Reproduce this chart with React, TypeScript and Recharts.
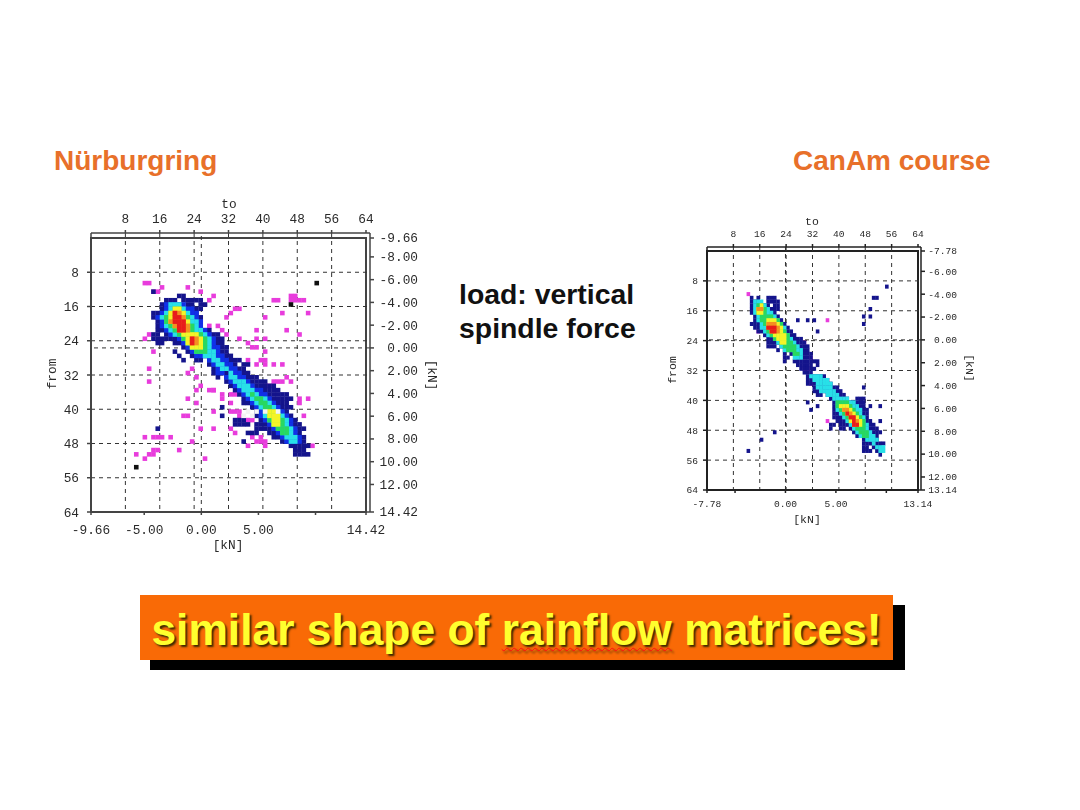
import React from "react";
import { ScatterChart, Scatter, XAxis, YAxis, ReferenceLine, ReferenceArea } from "recharts";

// Cells: [from-bin, to-bin start, to-bin end]
type Run = [number, number, number];

const leftMagenta: Run[] = [[10,12,13],[11,16,16],[11,22,22],[12,14,15],[12,25,25],[13,28,28],[14,27,27],[14,42,43],[13,46,47],[14,46,49],[17,44,44],[17,50,50],[18,40,40],[21,45,45],[22,48,48],[16,33,34],[17,32,32],[18,31,31],[20,27,27],[20,29,29],[21,30,30],[22,31,31],[23,34,34],[21,38,38],[23,38,38],[23,40,40],[24,36,36],[25,37,38],[26,40,40],[26,14,14],[23,12,12],[22,13,13],[30,13,13],[33,13,13],[31,22,22],[30,23,23],[32,24,24],[35,24,24],[34,25,25],[35,28,28],[37,22,22],[38,24,24],[40,28,28],[41,21,22],[44,25,25],[44,28,28],[46,12,12],[46,14,16],[46,18,18],[47,23,23],[49,20,20],[49,14,15],[50,10,10],[51,12,12],[50,13,14],[51,26,26],[28,36,36],[29,38,38],[29,40,40],[29,42,42],[29,44,44],[32,45,45],[33,46,46],[34,40,41],[37,48,48],[37,50,50],[38,48,48],[41,49,49],[48,51,51],[48,36,36],[48,40,40],[44,32,32],[45,33,33],[46,37,37],[46,39,39],[36,30,30],[38,32,32],[37,30,30],[40,32,34],[41,34,34],[30,30,31],[31,31,32],[28,39,40],[33,42,44],[42,36,37],[47,38,40],[35,27,28],[36,32,33]];
const leftNavy: Run[] = [[12,14,14],[13,20,21],[14,17,19],[14,21,25],[15,16,20],[15,22,23],[15,25,26],[16,16,25],[17,14,24],[18,14,25],[19,15,25],[20,15,25],[21,15,27],[22,14,15],[22,17,29],[23,14,30],[24,15,16],[24,19,30],[25,21,31],[26,19,19],[26,22,31],[27,20,20],[27,23,26],[27,28,32],[28,21,21],[28,24,25],[28,27,34],[29,27,33],[29,35,36],[30,28,35],[31,28,36],[32,29,29],[32,31,38],[33,31,40],[34,32,34],[34,36,42],[35,33,43],[36,34,45],[37,35,46],[38,35,45],[39,30,30],[39,37,46],[40,38,45],[41,30,30],[41,38,46],[42,33,35],[42,39,47],[43,33,36],[43,38,48],[44,15,15],[44,38,49],[45,36,38],[45,41,48],[46,42,49],[47,35,35],[47,44,49],[48,46,50],[49,47,49],[50,47,50]];
const leftBlue: Run[] = [[15,17,21],[16,17,23],[17,16,24],[18,15,24],[19,16,25],[20,16,25],[21,17,26],[22,18,27],[23,20,28],[24,21,28],[25,22,29],[26,23,29],[27,24,26],[27,28,30],[28,27,31],[29,28,32],[30,29,33],[31,29,30],[31,32,34],[32,31,35],[33,32,36],[34,33,37],[35,34,39],[36,35,40],[37,36,41],[38,37,42],[39,38,43],[40,39,44],[41,39,45],[42,40,46],[43,41,46],[44,42,47],[45,43,47],[46,44,48],[47,45,48]];
const leftCyan: Run[] = [[15,18,20],[16,18,21],[17,17,22],[18,16,23],[19,17,24],[20,17,24],[21,18,25],[22,19,26],[23,21,27],[24,22,27],[25,23,27],[26,24,28],[27,26,28],[28,28,29],[29,29,30],[30,30,31],[31,32,32],[32,32,33],[33,33,35],[34,34,36],[35,35,37],[36,36,38],[37,37,40],[38,38,41],[39,39,42],[40,40,43],[41,40,44],[42,41,45],[43,42,45],[44,43,46],[45,44,46],[46,45,47],[47,46,47]];
const leftGreen: Run[] = [[16,19,20],[17,18,21],[18,17,22],[19,17,22],[20,18,23],[21,19,23],[22,20,25],[23,21,26],[24,22,26],[25,23,26],[26,24,26],[36,37,37],[37,38,39],[38,39,40],[39,40,41],[40,40,42],[41,41,43],[42,41,44],[43,42,44],[44,43,45],[45,44,45]];
const leftYellow: Run[] = [[16,19,20],[17,18,21],[18,18,21],[19,18,22],[20,19,22],[21,20,22],[22,21,24],[23,22,25],[24,22,25],[25,23,25],[40,41,42],[41,41,43],[42,42,43],[43,42,43]];
const leftOrange: Run[] = [[17,19,20],[18,19,21],[19,18,21],[20,19,22],[21,20,22],[23,23,24],[24,23,24]];
const leftRed: Run[] = [[17,19,19],[18,19,20],[19,19,21],[20,20,21],[21,20,21],[23,23,23],[24,23,23]];
const leftSpecks: Run[] = [[10,52,52],[15,46,46],[53,10,10]];
const leftWhite: Run[] = [[40,36,36],[40,38,38],[40,40,40],[40,43,43],[41,35,35],[41,37,37]];

const rightMagenta: Run[] = [[11,12,12],[21,15,15],[24,29,29],[28,31,31],[31,29,30],[35,31,31],[45,36,36],[18,36,36]];
const rightNavy: Run[] = [[9,54,54],[12,50,51],[15,49,49],[17,49,49],[17,47,47],[19,47,47],[18,27,27],[18,30,30],[18,32,32],[21,33,33],[36,47,47],[41,49,49],[41,52,52],[40,30,30],[42,31,31],[41,33,33],[48,20,20],[50,16,16],[53,12,12],[45,52,52],[47,37,37],[12,13,13],[12,15,15],[12,18,20],[13,13,15],[13,18,21],[14,13,18],[14,20,21],[15,13,21],[16,13,20],[17,14,21],[18,14,22],[19,13,23],[20,14,24],[21,15,25],[22,17,26],[23,18,28],[24,18,29],[25,18,20],[25,22,30],[26,21,21],[26,23,30],[27,23,23],[27,25,31],[28,23,24],[28,27,31],[29,23,23],[29,26,33],[30,27,31],[30,33,33],[31,28,32],[32,29,31],[33,30,35],[34,30,36],[35,30,37],[36,32,39],[37,32,33],[37,35,40],[38,33,34],[38,36,41],[39,37,42],[39,45,47],[40,38,47],[41,38,47],[42,38,48],[43,38,48],[44,38,48],[45,39,49],[46,37,38],[46,40,50],[47,40,41],[47,43,51],[48,44,52],[49,45,51],[50,47,51],[51,47,49],[51,51,53],[52,47,48],[52,50,52],[53,47,49],[53,51,52],[54,52,52]];
const rightCyan: Run[] = [[13,14,16],[14,14,17],[15,14,18],[16,14,19],[17,15,20],[18,15,21],[19,16,22],[20,16,23],[21,17,23],[22,18,24],[23,20,25],[24,21,26],[25,22,27],[26,23,28],[27,26,28],[28,26,28],[33,31,34],[34,32,36],[35,33,37],[36,33,37],[37,34,38],[38,36,39],[39,38,42],[40,39,44],[41,39,45],[42,39,46],[43,40,46],[44,41,47],[45,42,47],[46,43,48],[47,44,48],[48,45,49],[49,46,50],[50,48,51],[51,50,50],[52,51,53],[53,52,53]];
const rightGreen: Run[] = [[14,15,16],[15,15,17],[16,15,17],[17,16,19],[18,16,21],[19,17,22],[20,18,22],[21,18,23],[22,19,24],[23,20,24],[24,22,25],[25,23,26],[26,24,26],[27,26,27],[40,39,42],[41,39,43],[42,40,44],[43,41,45],[44,42,46],[45,43,47],[46,44,47],[47,45,47],[48,46,48],[49,47,48]];
const rightYellow: Run[] = [[14,16,16],[15,15,16],[16,15,16],[18,18,20],[19,18,21],[20,19,22],[21,19,22],[22,20,23],[23,21,23],[24,22,23],[41,40,42],[42,41,43],[43,42,44],[44,43,45],[45,43,46],[46,44,46]];
const rightOrange: Run[] = [[15,15,16],[19,18,20],[20,18,21],[21,19,21],[42,41,42],[43,42,43],[44,43,44],[45,44,45],[46,44,45]];
const rightRed: Run[] = [[20,18,20],[21,19,20],[43,42,42],[44,43,44],[45,44,44],[46,44,45]];

const binTicks = [8, 16, 24, 32, 40, 48, 56, 64];
const gridBins = [8, 16, 24, 32, 40, 48, 56];
const leftKnX = [-9.66, -5, 0, 5, 10, 14.42];
const leftKnXLabels = ["-9.66", "-5.00", "0.00", "5.00", "", "14.42"];
const leftKnY = [-9.66, -8, -6, -4, -2, 0, 2, 4, 6, 8, 10, 12, 14.42];
const rightKnX = [-7.78, -5, 0, 5, 10, 13.14];
const rightKnXLabels = ["-7.78", "", "0.00", "5.00", "", "13.14"];
const rightKnY = [-7.78, -6, -4, -2, 0, 2, 4, 6, 8, 10, 12, 13.14];

const palette = {
  magenta: "#e83cdc",
  navy: "#14148c",
  blue: "#1030e8",
  cyan: "#28e0e8",
  green: "#28d860",
  yellow: "#f4f428",
  orange: "#f49020",
  red: "#e81c1c",
  black: "#101010",
  white: "#f4f4f4",
};

const expand = (runs: Run[]) => {
  const cells: { to: number; from: number }[] = [];
  runs.forEach(([from, a, b]) => {
    for (let c = a; c <= b; c++) cells.push({ to: c + 0.5, from: from + 0.5 });
  });
  return cells;
};

const MONO = "'Liberation Mono', monospace";

type PanelProps = {
  left: number; top: number; width: number; height: number;
  mTop: number; mBottom: number; mLeft: number; mRight: number;
  padTop: number; padRight: number;
  fontSize: number; nameSize: number; rightTickX: number; leftMargin: number; topMargin: number; bottomMargin: number;
  layers: [Run[], string][];
  kx: [number, number]; kxTicks: number[]; kxLabels: string[]; kyTicks: number[];
  toLabel: [number, number]; fromLabel: [number, number]; kxName: [number, number]; kyName: [number, number];
  stroke: string;
};

function Panel(p: PanelProps) {
  const plotW = p.width - p.mLeft - p.mRight - p.padRight;
  const plotH = p.height - p.mTop - p.mBottom - p.padTop;
  const bw = plotW / 64, bh = plotH / 64;
  const square = (fill: string) => (s: any) => (
    <rect x={s.cx - bw / 2} y={s.cy - bh / 2} width={bw + 0.3} height={bh + 0.3} fill={fill} />
  );
  const txt = { fontFamily: MONO, fontSize: p.fontSize, fill: "#2a2a2a" };
  const nameTxt = { fontFamily: MONO, fontSize: p.nameSize, fill: "#2a2a2a" };
  const num = (v: number) => v.toFixed(2);
  const lbl = (arr: number[], names: string[]) => (v: number) => names[arr.indexOf(v)] ?? "";
  const rightTick = (s: any) => (
    <text x={s.x + p.rightTickX} y={s.y + p.fontSize * 0.35} textAnchor="end" {...txt}>{num(s.payload.value)}</text>
  );
  const dash = { stroke: "#333", strokeDasharray: "4 4", strokeWidth: 1 };
  return (
    <div style={{ position: "absolute", left: p.left, top: p.top, filter: "blur(0.45px)" }}>
      <ScatterChart width={p.width} height={p.height} margin={{ top: 0, right: 0, bottom: 0, left: 0 }}>
        <XAxis xAxisId="to" dataKey="to" type="number" orientation="top" domain={[0, 64]} ticks={binTicks} interval={0}
          height={p.mTop} padding={{ left: 0, right: p.padRight }} tick={txt} tickSize={3} tickMargin={p.topMargin}
          stroke={p.stroke} strokeWidth={1.5} allowDataOverflow />
        <XAxis xAxisId="kn" dataKey="kn" type="number" orientation="bottom" domain={p.kx} ticks={p.kxTicks} interval={0}
          height={p.mBottom} padding={{ left: 0, right: p.padRight }} tick={txt} tickSize={3} tickMargin={p.bottomMargin}
          tickFormatter={lbl(p.kxTicks, p.kxLabels)} stroke={p.stroke} strokeWidth={1.5} allowDataOverflow />
        <YAxis yAxisId="from" dataKey="from" type="number" orientation="left" reversed domain={[0, 64]} ticks={binTicks} interval={0}
          width={p.mLeft} padding={{ top: p.padTop, bottom: 0 }} tick={txt} tickSize={4} tickMargin={p.leftMargin}
          stroke={p.stroke} strokeWidth={1.5} allowDataOverflow />
        <YAxis yAxisId="kn" dataKey="kn" type="number" orientation="right" reversed domain={p.kx} ticks={p.kyTicks} interval={0}
          width={p.mRight} padding={{ top: p.padTop, bottom: 0 }} tick={rightTick} tickSize={4}
          stroke={p.stroke} strokeWidth={1.5} allowDataOverflow />
        <ReferenceArea xAxisId="to" yAxisId="from" x1={0} x2={64} y1={0} y2={64} fill="#fff" fillOpacity={0} stroke={p.stroke} strokeWidth={2} />
        {p.layers.map(([runs, fill], i) => (
          <Scatter key={i} xAxisId="to" yAxisId="from" data={expand(runs)} isAnimationActive={false} shape={square(fill)} />
        ))}
        {gridBins.map((b) => (
          <ReferenceLine key={"v" + b} xAxisId="to" yAxisId="from" x={b} {...dash} />
        ))}
        {gridBins.map((b) => (
          <ReferenceLine key={"h" + b} xAxisId="to" yAxisId="from" y={b} {...dash} />
        ))}
        <ReferenceLine xAxisId="kn" yAxisId="kn" x={0} {...dash} />
        <ReferenceLine xAxisId="kn" yAxisId="kn" y={0} {...dash} />
        <text x={p.toLabel[0]} y={p.toLabel[1]} textAnchor="middle" {...nameTxt}>to</text>
        <text x={p.kxName[0]} y={p.kxName[1]} textAnchor="middle" {...nameTxt}>[kN]</text>
        <text x={p.fromLabel[0]} y={p.fromLabel[1]} textAnchor="middle" {...nameTxt}
          transform={`rotate(-90 ${p.fromLabel[0]} ${p.fromLabel[1]})`}>from</text>
        <text x={p.kyName[0]} y={p.kyName[1]} textAnchor="middle" {...nameTxt}
          transform={`rotate(90 ${p.kyName[0]} ${p.kyName[1]})`}>[kN]</text>
      </ScatterChart>
    </div>
  );
}

const SANS = "'Liberation Sans', Arial, sans-serif";
const orangeTitle = "#e8702a";

export default function App() {
  return (
    <div style={{ position: "absolute", left: 0, top: 0, width: 1080, height: 810, background: "#fff", overflow: "hidden", fontFamily: SANS }}>
      <div style={{ position: "absolute", left: 54, top: 145, fontSize: 28, fontWeight: 700, color: orangeTitle }}>Nürburgring</div>
      <div style={{ position: "absolute", left: 793, top: 145, fontSize: 28, fontWeight: 700, color: orangeTitle }}>CanAm course</div>
      <div style={{ position: "absolute", left: 459, top: 278, fontSize: 28.4, fontWeight: 700, lineHeight: "33.5px", color: "#111", whiteSpace: "nowrap" }}>
        load: vertical<br />spindle force
      </div>
      <Panel left={40} top={190} width={400} height={370} mTop={43} mBottom={48} mLeft={51} mRight={70}
        padTop={5} padRight={4} fontSize={12.8} nameSize={12.8} rightTickX={42} leftMargin={8} topMargin={7} bottomMargin={10}
        layers={[[leftMagenta, palette.magenta], [leftNavy, palette.navy], [leftBlue, palette.blue], [leftCyan, palette.cyan], [leftGreen, palette.green], [leftYellow, palette.yellow], [leftOrange, palette.orange], [leftRed, palette.red], [leftSpecks, palette.black], [leftWhite, palette.white]]}
        kx={[-9.66, 14.42]} kxTicks={leftKnX} kxLabels={leftKnXLabels} kyTicks={leftKnY}
        toLabel={[189, 18]} kxName={[188, 359]} fromLabel={[16, 184]} kyName={[388, 185]} stroke="#444" />
      <Panel left={664} top={205} width={326} height={330} mTop={42} mBottom={45} mLeft={43} mRight={69}
        padTop={4} padRight={3} fontSize={9.6} nameSize={11.5} rightTickX={30} leftMargin={5} topMargin={7} bottomMargin={7}
        layers={[[rightMagenta, palette.magenta], [rightNavy, palette.navy], [rightCyan, palette.cyan], [rightGreen, palette.green], [rightYellow, palette.yellow], [rightOrange, palette.orange], [rightRed, palette.red]]}
        kx={[-7.78, 13.14]} kxTicks={rightKnX} kxLabels={rightKnXLabels} kyTicks={rightKnY}
        toLabel={[148, 20]} kxName={[143, 318]} fromLabel={[12, 165]} kyName={[302, 163]} stroke="#222" />
      <div style={{ position: "absolute", left: 150, top: 605, width: 755, height: 65, background: "#000" }} />
      <div style={{
        position: "absolute", left: 140, top: 595, width: 753, height: 65, background: "#f96a06", color: "#ffff2e",
        fontSize: 44.4, fontWeight: 700, lineHeight: "70px", textAlign: "center", textShadow: "2px 2px 2px #3a2a00", whiteSpace: "nowrap",
      }}>
        similar shape of <span style={{ textDecoration: "underline wavy #ff1010 1px", textUnderlineOffset: "2px" }}>rainflow</span> matrices!
      </div>
    </div>
  );
}
